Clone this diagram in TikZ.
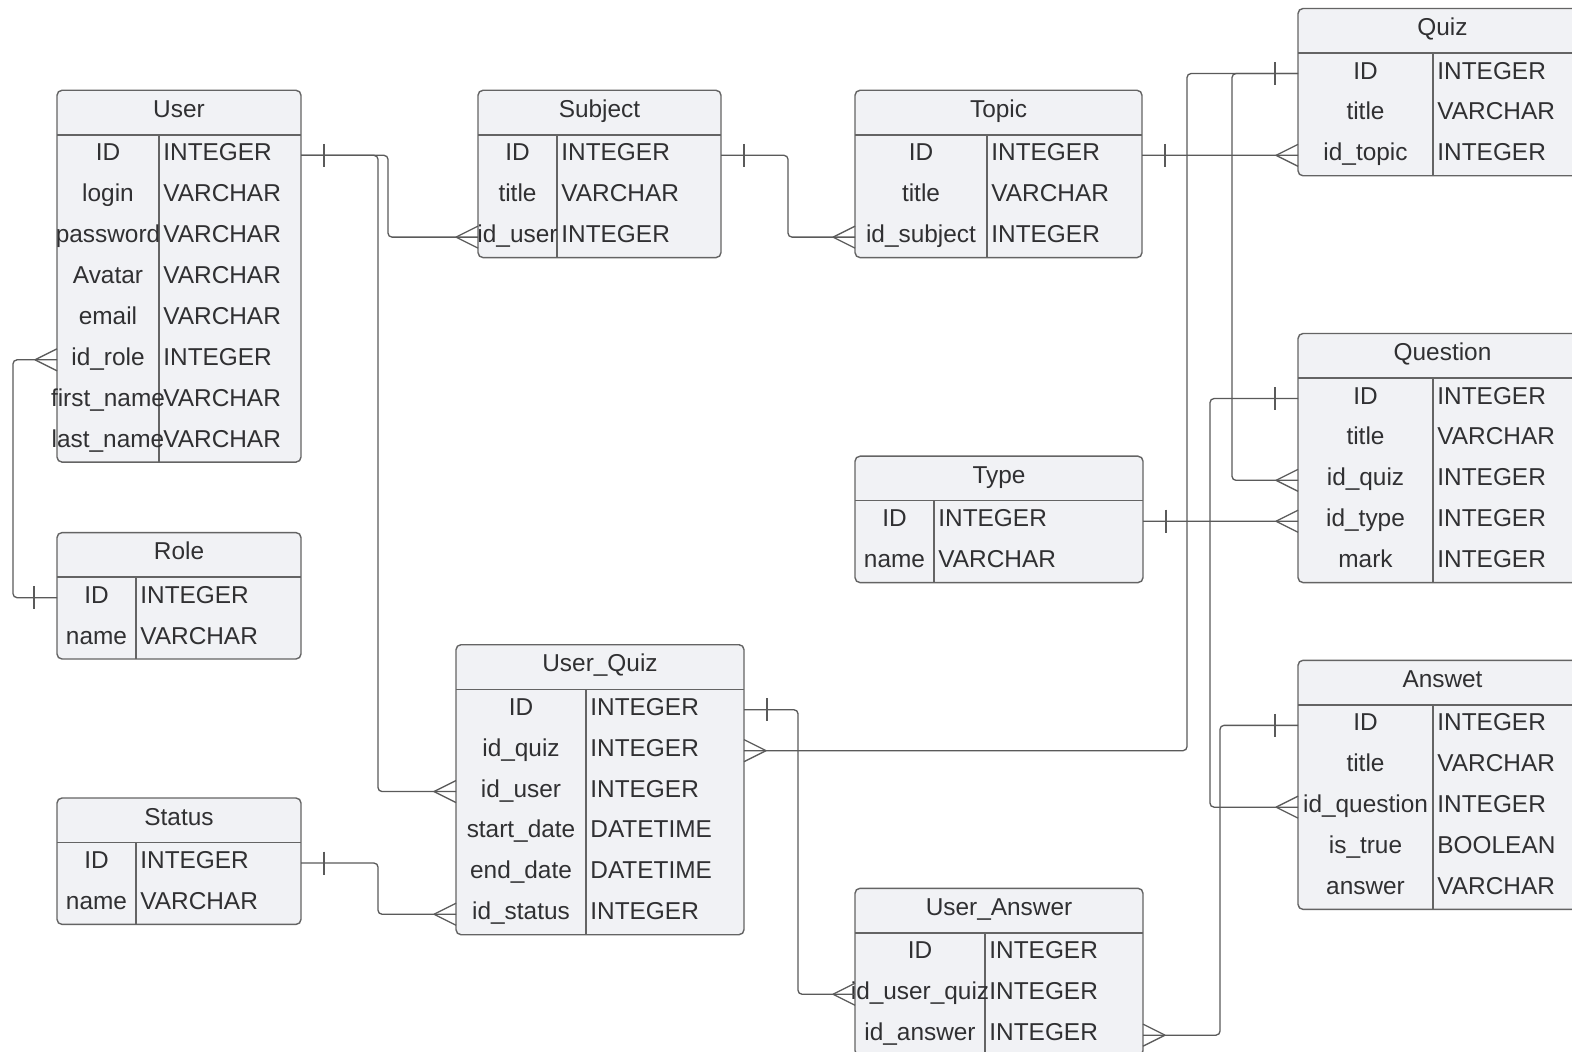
\documentclass[tikz,border=0pt]{standalone}
\usepackage{fontspec}
\setmainfont{Liberation Sans}
\definecolor{tblfill}{RGB}{241,242,245}
\definecolor{tbledge}{RGB}{100,100,100}
\definecolor{connc}{RGB}{90,90,90}
\definecolor{txtc}{RGB}{48,48,50}
\tikzset{
  tblbox/.style={draw=tbledge, fill=tblfill, line width=0.7pt, rounded corners=2.5pt},
  tblrule/.style={draw=tbledge, line width=0.7pt},
  ttl/.style={anchor=base, inner sep=0pt, text=txtc, font=\fontsize{12.2pt}{14pt}\selectfont},
  fld/.style={anchor=base, inner sep=0pt, text=txtc, font=\fontsize{12.2pt}{14pt}\selectfont},
  conn/.style={draw=connc, line width=0.65pt, rounded corners=2pt},
  tick/.style={draw=connc, line width=0.65pt},
}
\newcommand\ertHdr{44.6}
\newcommand\ertRow{40.9}
% #1 id, #2 left, #3 right, #4 divider, #5 top, #6 rows count, #7 title, #8 rows
\newcommand\ertable[8]{%
  \pgfmathsetmacro\ertB{#5+\ertHdr+\ertRow*#6}%
  \pgfmathsetmacro\ertS{#5+\ertHdr}%
  \draw[tblbox] (#2,#5) rectangle (#3,\ertB);
  \draw[tblrule] (#2,\ertS) -- (#3,\ertS);
  \draw[tblrule] (#4,\ertS) -- (#4,\ertB);
  \node[ttl] (#1) at ({(#2+#3)/2},{#5+27}) {#7};
  \foreach \a/\b [count=\i] in {#8}{%
    \pgfmathsetmacro\ertY{\ertS+\ertRow*(\i-0.5)}
    \coordinate (#1-\i-W) at (#2,\ertY);
    \coordinate (#1-\i-E) at (#3,\ertY);
    \node[fld] (#1-\i-k) at ({(#2+#4)/2},{\ertY+5.5}) {\a};
    \node[fld,anchor=base west] (#1-\i-t) at ({#4+4},{\ertY+5.5}) {\b};
  }%
}
\newcommand\crowfoot[2]{\draw[tick,shift={(#1)}] ({#2*22},0) -- (0,-11) ({#2*22},0) -- (0,11);}
\newcommand\onebar[2]{\draw[tick,shift={(#1)}] ({#2*23},-11.5) -- ({#2*23},11.5);}
\begin{document}
\begin{tikzpicture}[x=0.5pt,y=-0.5pt]
\useasboundingbox (0,0) rectangle (1572,1052);
\clip (0,0) rectangle (1572,1052);
\fill[white] (0,0) rectangle (1572,1052);

\ertable{User}{57}{301}{159}{90.3}{8}{User}{ID/INTEGER, login/VARCHAR, password/VARCHAR, Avatar/VARCHAR, email/VARCHAR, id\_role/INTEGER, first\_name/VARCHAR, last\_name/VARCHAR}
\ertable{Subject}{478}{721}{557}{90.3}{3}{Subject}{ID/INTEGER, title/VARCHAR, id\_user/INTEGER}
\ertable{Topic}{855}{1142}{987}{90.3}{3}{Topic}{ID/INTEGER, title/VARCHAR, id\_subject/INTEGER}
\ertable{Quiz}{1298}{1587}{1433}{8.5}{3}{Quiz}{ID/INTEGER, title/VARCHAR, id\_topic/INTEGER}
\ertable{Question}{1298}{1587}{1433}{333.5}{5}{Question}{ID/INTEGER, title/VARCHAR, id\_quiz/INTEGER, id\_type/INTEGER, mark/INTEGER}
\ertable{Type}{855}{1143}{934}{456.2}{2}{Type}{ID/INTEGER, name/VARCHAR}
\ertable{Role}{57}{301}{136}{532.6}{2}{Role}{ID/INTEGER, name/VARCHAR}
\ertable{Status}{57}{301}{136}{798}{2}{Status}{ID/INTEGER, name/VARCHAR}
\ertable{UQ}{456}{744}{586}{644.7}{6}{User\_Quiz}{ID/INTEGER, id\_quiz/INTEGER, id\_user/INTEGER, start\_date/DATETIME, end\_date/DATETIME, id\_status/INTEGER}
\ertable{Answet}{1298}{1587}{1433}{660.3}{5}{Answet}{ID/INTEGER, title/VARCHAR, id\_question/INTEGER, is\_true/BOOLEAN, answer/VARCHAR}
\ertable{UA}{855}{1143}{985}{888.3}{3}{User\_Answer}{ID/INTEGER, id\_user\_quiz/INTEGER, id\_answer/INTEGER}

% User -> Subject
\draw[conn] (User-1-E) -- ++(87,0) |- (Subject-3-W);
\onebar{User-1-E}{1}
\crowfoot{Subject-3-W}{-1}
% User -> User_Quiz
\draw[conn] (User-1-E) -- ++(77,0) |- (UQ-3-W);
\crowfoot{UQ-3-W}{-1}
% Subject -> Topic
\draw[conn] (Subject-1-E) -- ++(67,0) |- (Topic-3-W);
\onebar{Subject-1-E}{1}
\crowfoot{Topic-3-W}{-1}
% Topic -> Quiz
\draw[conn] (Topic-1-E) -- (Quiz-3-W);
\onebar{Topic-1-E}{1}
\crowfoot{Quiz-3-W}{-1}
% Quiz -> Question
\draw[conn] (Quiz-1-W) -- ++(-66,0) |- (Question-3-W);
\onebar{Quiz-1-W}{-1}
\crowfoot{Question-3-W}{-1}
% Quiz -> User_Quiz
\draw[conn] (Quiz-1-W) -- ++(-111,0) |- (UQ-2-E);
\crowfoot{UQ-2-E}{1}
% Question -> Answet
\draw[conn] (Question-1-W) -- ++(-88,0) |- (Answet-3-W);
\onebar{Question-1-W}{-1}
\crowfoot{Answet-3-W}{-1}
% Type -> Question
\draw[conn] (Type-1-E) -- (Question-4-W);
\onebar{Type-1-E}{1}
\crowfoot{Question-4-W}{-1}
% Answet -> User_Answer
\draw[conn] (Answet-1-W) -- ++(-78,0) |- (UA-3-E);
\onebar{Answet-1-W}{-1}
\crowfoot{UA-3-E}{1}
% User_Quiz -> User_Answer
\draw[conn] (UQ-1-E) -- ++(54,0) |- (UA-2-W);
\onebar{UQ-1-E}{1}
\crowfoot{UA-2-W}{-1}
% Status -> User_Quiz
\draw[conn] (Status-1-E) -- ++(77,0) |- (UQ-6-W);
\onebar{Status-1-E}{1}
\crowfoot{UQ-6-W}{-1}
% Role -> User
\draw[conn] (Role-1-W) -- ++(-44,0) |- (User-6-W);
\onebar{Role-1-W}{-1}
\crowfoot{User-6-W}{-1}
\end{tikzpicture}
\end{document}
